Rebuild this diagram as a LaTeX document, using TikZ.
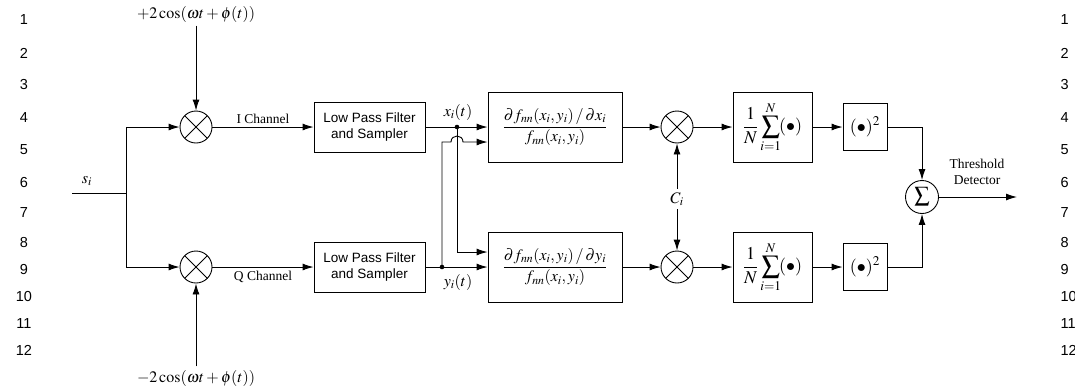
\documentclass[tikz,border=0pt]{standalone}
\usepackage{amsmath}
\usepackage{mathptmx}
\usepackage{fontspec}
\setmainfont{Liberation Serif}
\newfontfamily\arialfont{Liberation Sans}
\usetikzlibrary{arrows.meta,positioning,calc}

\begin{document}
\begin{tikzpicture}[
  x=1pt,y=-1pt,
  every node/.style={font=\fontsize{13.5}{16}\selectfont},
  mth/.style={font=\fontsize{16}{19}\selectfont},
  blk/.style={draw,line width=0.9pt,inner sep=0pt,align=center},
  mixer/.style={draw,circle,minimum size=32pt,inner sep=0pt,line width=0.9pt,
    path picture={\draw[line width=0.9pt] (path picture bounding box.north west)--(path picture bounding box.south east)
      (path picture bounding box.north east)--(path picture bounding box.south west);}},
  arr/.style={-{Latex[length=11pt,width=7pt]},line width=0.9pt},
  wire/.style={line width=0.9pt},
  lnum/.style={font=\arialfont\fontsize{14.5}{16}\selectfont}
]
\useasboundingbox (0,0) rectangle (1075,391);
% line numbers
\foreach \n/\y in {1/20,2/53,3/85,4/118,5/150,6/183,7/213,8/243,9/270,10/297,11/324,12/350}{
  \node[lnum] (lnL\n) at (24,\y) {\n};
  \node[lnum,anchor=west] (lnR\n) at (1057,\y) {\n};
}
% demodulation
\coordinate (si) at (72,193);
\coordinate (split) at (126,193);
\node[mth] (silab) at (87,181) {$s_i$};
\node[mixer] (mixI) at (196,127) {};
\node[mixer] (mixQ) at (196,267) {};
\node[mth] (cosI) at (196,14) {$+2\cos(\omega t+\phi(t))$};
\node[mth] (cosQ) at (196,378) {$-2\cos(\omega t+\phi(t))$};
\node[blk,minimum width=111pt,minimum height=50pt,font=\arialfont\fontsize{13.5}{16}\selectfont] (lpfI) at (369.5,127) {Low Pass Filter\\and Sampler};
\node[blk,minimum width=111pt,minimum height=50pt,font=\arialfont\fontsize{13.5}{16}\selectfont] (lpfQ) at (369.5,267) {Low Pass Filter\\and Sampler};
\draw[wire] (si) -- (split);
\draw[arr] (split) |- (mixI);
\draw[arr] (split) |- (mixQ);
\draw[arr] (cosI) -- (mixI);
\draw[arr] (cosQ) -- (mixQ);
\draw[arr] (mixI) -- node[above] (ich) {I Channel} (lpfI);
\draw[arr] (mixQ) -- node[below] (qch) {Q Channel} (lpfQ);
% score functions
\node[blk,mth,minimum width=134pt,minimum height=70pt] (fracX) at (555,127)
  {$\dfrac{\partial f_{nn}(x_i,y_i)\,/\,\partial x_i}{f_{nn}(x_i,y_i)}$};
\node[blk,mth,minimum width=134pt,minimum height=70pt] (fracY) at (555,267)
  {$\dfrac{\partial f_{nn}(x_i,y_i)\,/\,\partial y_i}{f_{nn}(x_i,y_i)}$};
\coordinate (xdot) at (457,127);
\coordinate (ydot) at (442,267);
\node[mth] (xlab) at (458,112) {$x_i(t)$};
\node[mth] (ylab) at (458,282) {$y_i(t)$};
\draw[arr] (lpfI) -- (fracX);
\draw[arr] (lpfQ) -- (fracY);
\fill (xdot) circle (2.3pt);
\fill (ydot) circle (2.3pt);
\draw[arr] (xdot) |- ([yshift=15pt]fracY.west);
\draw[arr] (ydot) -- (442,142) -- (451,142) .. controls (451,134) and (463,134) .. (463,142) -- ([yshift=-15pt]fracX.west);
% correlation
\node[mixer] (mulX) at (677,127) {};
\node[mixer] (mulY) at (677,267) {};
\node[mth] (ci) at (677,199) {$C_i$};
\draw[arr] (fracX) -- (mulX);
\draw[arr] (fracY) -- (mulY);
\draw[arr] (ci) -- (mulX);
\draw[arr] (ci) -- (mulY);
\node[blk,minimum width=79pt,minimum height=70pt,font=\fontsize{18}{20}\selectfont] (sumX) at (772.5,127) {$\dfrac{1}{N}\displaystyle\sum_{i=1}^{N}\!(\bullet)$};
\node[blk,minimum width=79pt,minimum height=70pt,font=\fontsize{18}{20}\selectfont] (sumY) at (772.5,267) {$\dfrac{1}{N}\displaystyle\sum_{i=1}^{N}\!(\bullet)$};
\node[blk,minimum width=44pt,minimum height=47pt,font=\fontsize{18}{20}\selectfont] (sqX) at (865,127) {$(\bullet)^2$};
\node[blk,minimum width=44pt,minimum height=47pt,font=\fontsize{18}{20}\selectfont] (sqY) at (865,267) {$(\bullet)^2$};
\draw[arr] (mulX) -- (sumX);
\draw[arr] (mulY) -- (sumY);
\draw[arr] (sumX) -- (sqX);
\draw[arr] (sumY) -- (sqY);
% decision
\node[draw,circle,minimum size=33pt,inner sep=0pt,line width=0.9pt,font=\fontsize{15}{18}\selectfont] (sigma) at (922,197) {$\displaystyle\sum$};
\coordinate (out) at (1017,197);
\node[align=center] (thr) at (977,172) {Threshold\\Detector};
\draw[arr] (sqX) -| (sigma);
\draw[arr] (sqY) -| (sigma);
\draw[arr] (sigma) -- (out);
\end{tikzpicture}
\end{document}
